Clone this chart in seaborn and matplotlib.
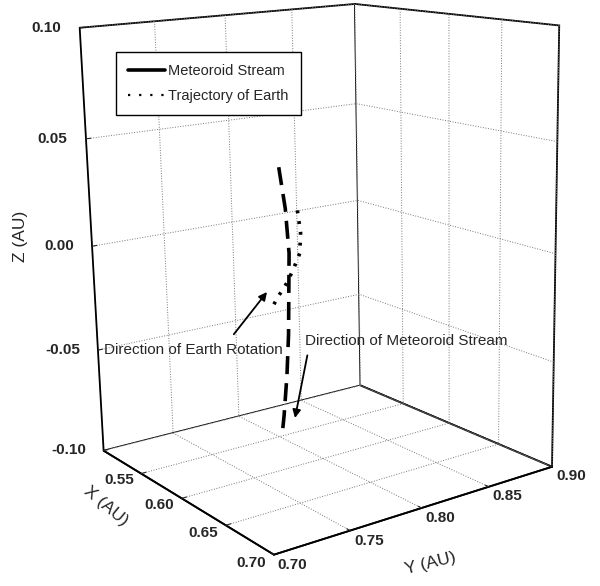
import numpy as np
import matplotlib
matplotlib.use("Agg")
import matplotlib.pyplot as plt
import seaborn as sns
from matplotlib.lines import Line2D
from matplotlib.ticker import FormatStrFormatter

# --------------------------
# DATA (AU)
# --------------------------
stream_x = [0.550, 0.550, 0.550, 0.550, 0.550, 0.550, 0.550, 0.550]
stream_y = [0.805, 0.809, 0.811, 0.810, 0.809, 0.807, 0.804, 0.802]
stream_z = [0.032, 0.012, -0.010, -0.030, -0.050, -0.070, -0.090, -0.100]

earth_x = [0.550, 0.550, 0.550, 0.550, 0.550, 0.550, 0.550]
earth_y = [0.818, 0.820, 0.819, 0.814, 0.809, 0.802, 0.796]
earth_z = [0.010, -0.001, -0.011, -0.018, -0.024, -0.030, -0.036]

x_ticks = [0.55, 0.60, 0.65, 0.70]
y_ticks = [0.70, 0.75, 0.80, 0.85, 0.90]
z_ticks = [-0.10, -0.05, 0.00, 0.05, 0.10]

# --------------------------
# STYLE
# --------------------------
sns.set_style("white")
plt.rcParams["font.family"] = ["Liberation Sans", "DejaVu Sans"]
plt.rcParams["grid.color"] = "#777777"
plt.rcParams["grid.linestyle"] = ":"
plt.rcParams["grid.linewidth"] = 0.7

fig = plt.figure(figsize=(6.0, 5.86), dpi=100)
ax = fig.add_axes([0.018, 0.060, 1.0, 1.0], projection="3d")
ax.set_proj_type("persp", focal_length=0.5)
ax.view_init(elev=14, azim=-35, roll=1.2)
ax.set_box_aspect((0.67, 0.70, 0.92), zoom=1.07)

ax.plot(stream_x, stream_y, stream_z, color="black", lw=2.6, ls=(0, (5, 2.5)))
ax.plot(earth_x, earth_y, earth_z, color="black", lw=2.6, ls=(0, (0.8, 2.2)))

ax.set_xlim(0.5, 0.7, view_margin=0)
ax.set_ylim(0.7, 0.9, view_margin=0)
ax.set_zlim(-0.1, 0.1, view_margin=0)
ax.set_xticks(x_ticks)
ax.set_yticks(y_ticks)
ax.set_zticks(z_ticks)
ax.zaxis.set_ticks_position("lower")
for axis in (ax.xaxis, ax.yaxis, ax.zaxis):
    axis.set_major_formatter(FormatStrFormatter("%.2f"))
    axis.set_pane_color((1, 1, 1, 1))
    axis.pane.set_edgecolor("black")
    axis.pane.set_linewidth(1.3)
    axis.line.set_color("black")
    axis.line.set_linewidth(1.3)
    axis._axinfo["grid"].update(color="#777777", linestyle=":", linewidth=0.7)
    axis._axinfo["tick"]["inward_factor"] = 0.0
    axis._axinfo["tick"]["outward_factor"] = 0.2
ax.tick_params(labelsize=11)
ax.tick_params(axis="x", pad=-2)
ax.tick_params(axis="y", pad=-4)
ax.tick_params(axis="z", pad=1)
for lab in ax.get_xticklabels() + ax.get_yticklabels() + ax.get_zticklabels():
    lab.set_fontweight("bold")
for lab in ax.get_xticklabels():
    lab.set_ha("right")
    lab.set_va("bottom")
for lab in ax.get_yticklabels():
    lab.set_ha("left")
    lab.set_va("center")
for lab in ax.get_zticklabels():
    lab.set_ha("right")
    lab.set_va("center")

fig.text(0.035, 0.597, "Z (AU)", rotation=90, ha="center", va="center",
         fontsize=12.5)
fig.text(0.177, 0.137, "X (AU)", rotation=-40, ha="center", va="center",
         fontsize=12.5)
fig.text(0.717, 0.038, "Y (AU)", rotation=14, ha="center", va="center",
         fontsize=12.5)

handles = [Line2D([], [], color="black", lw=2.6),
           Line2D([], [], color="black", lw=1.6, ls=(0, (1, 4)))]
fig.legend(handles, ["Meteoroid Stream", "Trajectory of Earth"],
           loc="upper left", bbox_to_anchor=(116 / 600, 1 - 52 / 586),
           borderaxespad=0, fontsize=10.5, frameon=True, fancybox=False,
           edgecolor="black", framealpha=1, handlelength=2.5,
           handletextpad=0.25, borderpad=0.85, labelspacing=0.7)

ax.annotate("Direction of Earth Rotation", xy=(267 / 600, 1 - 292 / 586),
            xytext=(193 / 600, 1 - 350 / 586), xycoords="figure fraction",
            textcoords="figure fraction", ha="center", va="center",
            fontsize=11,
            arrowprops=dict(arrowstyle="-|>", color="black", lw=1.3,
                            shrinkA=5, shrinkB=0, mutation_scale=12,
                            relpos=(0.69, 1.0)))
ax.annotate("Direction of Meteoroid Stream", xy=(295 / 600, 1 - 418 / 586),
            xytext=(406 / 600, 1 - 341 / 586), xycoords="figure fraction",
            textcoords="figure fraction", ha="center", va="center",
            fontsize=11,
            arrowprops=dict(arrowstyle="-|>", color="black", lw=1.3,
                            shrinkA=3, shrinkB=0, mutation_scale=12,
                            relpos=(0.02, 0.0)))

fig.savefig("out.png", dpi=100)
